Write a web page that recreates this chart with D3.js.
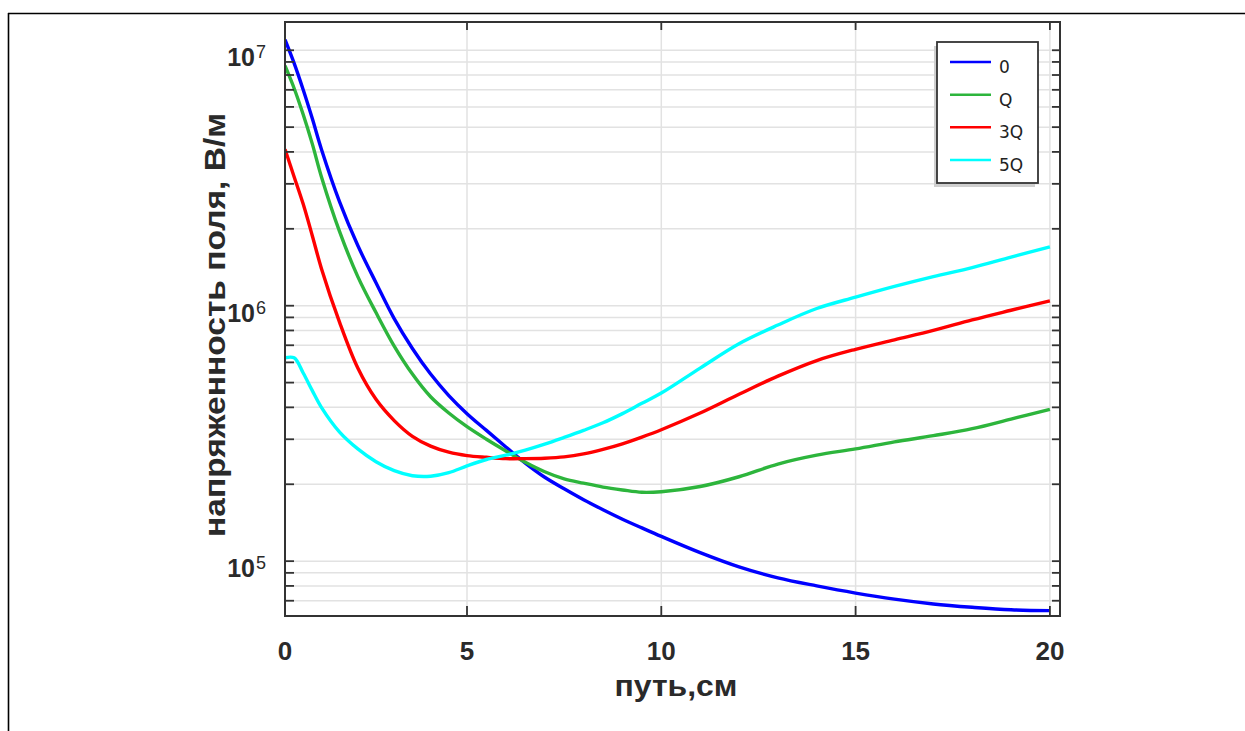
<!DOCTYPE html>
<html>
<head>
<meta charset="utf-8">
<script src="https://cdn.jsdelivr.net/npm/d3@7/dist/d3.min.js"></script>
<style>
  html, body { margin: 0; padding: 0; background: #fff; }
  svg { display: block; }
  text { font-family: "Liberation Sans", Arial, Helvetica, sans-serif; }
  text.legend { font-family: "DejaVu Sans", Verdana, sans-serif; }
</style>
</head>
<body>
<svg id="chart" width="1245" height="731"></svg>
<script>
// ---------- DATA ----------
const xValues = [0, 0.25, 0.5, 0.75, 1, 1.5, 2, 2.5, 3, 3.5, 4, 4.5, 5, 5.5, 6, 6.5, 7, 7.5, 8, 8.5, 9, 9.5, 10, 11, 12, 13, 14, 15, 16, 17, 18, 19, 20];

const series0 = [1.1e7, 8.9e6, 7.0e6, 5.4e6, 4.1e6, 2.55e6, 1.72e6, 1.23e6, 8.9e5, 6.8e5, 5.4e5, 4.45e5, 3.78e5, 3.25e5, 2.8e5, 2.42e5, 2.13e5, 1.92e5, 1.74e5, 1.59e5, 1.46e5, 1.35e5, 1.25e5, 1.08e5, 9.5e4, 8.6e4, 8.0e4, 7.5e4, 7.1e4, 6.8e4, 6.6e4, 6.45e4, 6.4e4];
const seriesQ = [8.7e6, 7.1e6, 5.6e6, 4.3e6, 3.2e6, 1.95e6, 1.3e6, 9.4e5, 6.95e5, 5.4e5, 4.4e5, 3.8e5, 3.36e5, 3.0e5, 2.7e5, 2.44e5, 2.24e5, 2.1e5, 2.02e5, 1.95e5, 1.9e5, 1.86e5, 1.87e5, 1.96e5, 2.14e5, 2.4e5, 2.6e5, 2.75e5, 2.93e5, 3.1e5, 3.3e5, 3.6e5, 3.93e5];
const series3Q = [4.1e6, 3.2e6, 2.5e6, 1.88e6, 1.4e6, 8.6e5, 5.7e5, 4.3e5, 3.55e5, 3.08e5, 2.82e5, 2.67e5, 2.59e5, 2.55e5, 2.52e5, 2.52e5, 2.53e5, 2.56e5, 2.63e5, 2.74e5, 2.88e5, 3.06e5, 3.27e5, 3.8e5, 4.5e5, 5.3e5, 6.1e5, 6.75e5, 7.35e5, 8.0e5, 8.8e5, 9.6e5, 1.045e6];
const series5Q = [6.25e5, 6.25e5, 5.45e5, 4.65e5, 4.0e5, 3.2e5, 2.75e5, 2.45e5, 2.26e5, 2.16e5, 2.15e5, 2.22e5, 2.36e5, 2.5e5, 2.6e5, 2.72e5, 2.87e5, 3.05e5, 3.25e5, 3.48e5, 3.78e5, 4.15e5, 4.55e5, 5.7e5, 7.1e5, 8.4e5, 9.75e5, 1.08e6, 1.19e6, 1.3e6, 1.41e6, 1.55e6, 1.70e6];

const seriesNames = ["0", "Q", "3Q", "5Q"];
const seriesColors = ["#0000ff", "#2db53c", "#ff0000", "#00ffff"];
const seriesData = [series0, seriesQ, series3Q, series5Q];

const xTicks = [0, 5, 10, 15, 20];
const yMajorTicks = [1e5, 1e6, 1e7];
const yTickExponents = ["5", "6", "7"];
const xTitle = "путь,см";
const yTitle = "напряженность поля, В/м";

// ---------- LAYOUT ----------
const svg = d3.select("#chart");
const pLeft = 285, pRight = 1060, pTop = 22, pBottom = 616;

const x = d3.scaleLinear().domain([0, 5, 20.26]).range([pLeft, 467, pRight]);
const y = d3.scaleLog().domain([6.1e4, 1.29e7]).range([pBottom, pTop]);

// page frame lines
svg.append("line").attr("x1", 8).attr("x2", 1245).attr("y1", 13.5).attr("y2", 13.5)
  .attr("stroke", "#000").attr("stroke-width", 1.6);
svg.append("line").attr("x1", 8.5).attr("x2", 8.5).attr("y1", 13).attr("y2", 731)
  .attr("stroke", "#000").attr("stroke-width", 1.6);

// log ticks
const yAll = [];
for (let e = 4; e <= 7; e++) {
  for (let m = 1; m <= 9; m++) {
    const v = m * Math.pow(10, e);
    if (v >= y.domain()[0] && v <= y.domain()[1]) yAll.push(v);
  }
}

const grid = svg.append("g");
grid.selectAll("line.hy").data(yAll).join("line")
  .attr("x1", pLeft).attr("x2", pRight)
  .attr("y1", d => y(d)).attr("y2", d => y(d))
  .attr("stroke", "#e2e2e2").attr("stroke-width", 1.5);
grid.selectAll("line.vx").data(xTicks.filter(d => d > 0)).join("line")
  .attr("x1", d => x(d)).attr("x2", d => x(d))
  .attr("y1", pTop).attr("y2", pBottom)
  .attr("stroke", "#e2e2e2").attr("stroke-width", 1.5);

// clip
svg.append("clipPath").attr("id", "clip").append("rect")
  .attr("x", pLeft).attr("y", pTop).attr("width", pRight - pLeft).attr("height", pBottom - pTop);

const line = d3.line()
  .x((d, i) => x(xValues[i]))
  .y(d => y(d))
  .curve(d3.curveCatmullRom.alpha(0.5));

const curves = svg.append("g").attr("clip-path", "url(#clip)");
seriesData.forEach((s, k) => {
  curves.append("path").datum(s)
    .attr("d", line)
    .attr("fill", "none")
    .attr("stroke", seriesColors[k])
    .attr("stroke-width", 3.4)
    .attr("stroke-linejoin", "round");
});

// frame
const frameColor = "#333";
svg.append("rect").attr("x", pLeft).attr("y", pTop).attr("width", pRight - pLeft).attr("height", pBottom - pTop)
  .attr("fill", "none").attr("stroke", frameColor).attr("stroke-width", 2);

// y ticks (inward, left & right)
const tk = svg.append("g").attr("stroke", frameColor).attr("stroke-width", 1.8);
tk.selectAll("line.yl").data(yAll).join("line")
  .attr("x1", pLeft).attr("x2", pLeft + 9)
  .attr("y1", d => y(d)).attr("y2", d => y(d));
tk.selectAll("line.yr").data(yAll).join("line")
  .attr("x1", pRight - 8).attr("x2", pRight)
  .attr("y1", d => y(d)).attr("y2", d => y(d));
// x ticks (inward bottom & top)
tk.selectAll("line.xb").data(xTicks.filter(d => d > 0)).join("line")
  .attr("x1", d => x(d)).attr("x2", d => x(d))
  .attr("y1", pBottom - 10).attr("y2", pBottom);
tk.selectAll("line.xt").data(xTicks.filter(d => d > 0)).join("line")
  .attr("x1", d => x(d)).attr("x2", d => x(d))
  .attr("y1", pTop).attr("y2", pTop + 8);

// x tick labels
const labelColor = "#2a2a2a";
svg.append("g").selectAll("text").data(xTicks).join("text")
  .attr("x", d => x(d)).attr("y", 660)
  .attr("text-anchor", "middle")
  .attr("font-weight", "bold").attr("font-size", 26)
  .attr("fill", labelColor)
  .text(d => d);

// y tick labels 10^n
const yl = svg.append("g").selectAll("text").data(yMajorTicks).join("text")
  .attr("x", 266).attr("y", d => y(d) + 16)
  .attr("text-anchor", "end")
  .attr("fill", labelColor);
yl.append("tspan").attr("font-weight", "bold").attr("font-size", 25).text("10");
yl.append("tspan").attr("font-size", 18).attr("dy", -8).attr("dx", 1)
  .text((d, i) => yTickExponents[i]);

// axis titles
svg.append("text")
  .attr("x", 676).attr("y", 696)
  .attr("text-anchor", "middle")
  .attr("font-weight", "bold").attr("font-size", 29)
  .attr("textLength", 123).attr("lengthAdjust", "spacingAndGlyphs")
  .attr("fill", labelColor)
  .text(xTitle);

svg.append("text")
  .attr("transform", "translate(225,325) rotate(-90)")
  .attr("text-anchor", "middle")
  .attr("font-weight", "bold").attr("font-size", 30)
  .attr("textLength", 424).attr("lengthAdjust", "spacingAndGlyphs")
  .attr("fill", labelColor)
  .text(yTitle);

// legend
const lg = svg.append("g");
lg.append("rect").attr("x", 934).attr("y", 46).attr("width", 101).attr("height", 141)
  .attr("fill", "#cfcfcf");
lg.append("rect").attr("x", 937).attr("y", 42).attr("width", 101).attr("height", 141)
  .attr("fill", "#fff").attr("stroke", frameColor).attr("stroke-width", 1.8);
const legendRowY = d3.scalePoint().domain(seriesNames).range([62, 160]);
seriesNames.forEach((n, k) => {
  const yy = legendRowY(n);
  lg.append("line").attr("x1", 950).attr("x2", 991).attr("y1", yy).attr("y2", yy)
    .attr("stroke", seriesColors[k]).attr("stroke-width", 2.5);
  lg.append("text").attr("class", "legend").attr("x", 999).attr("y", yy + 11)
    .attr("font-size", 17).attr("fill", "#222")
    .text(n);
});
</script>
</body>
</html>
